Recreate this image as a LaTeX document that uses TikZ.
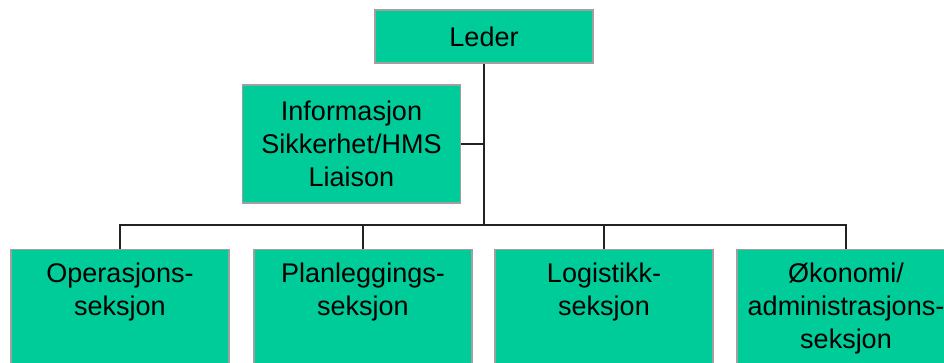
\documentclass[tikz,border=0pt]{standalone}
\usepackage{fontspec}
\setmainfont{Liberation Sans}
\usetikzlibrary{positioning}
\definecolor{boxgreen}{HTML}{00CC99}
\definecolor{boxedge}{HTML}{A0A0A0}
\definecolor{wirecol}{HTML}{222222}

\begin{document}
\begin{tikzpicture}[
    x=1pt, y=1pt,
    box/.style={draw=boxedge, line width=1.3pt, fill=boxgreen, minimum width=218pt,
                align=center, font=\fontsize{27}{33}\selectfont, inner sep=0pt},
    sect/.style={box, anchor=north, minimum height=140pt},
    sectlbl/.style={align=center, font=\fontsize{27}{33}\selectfont, inner sep=0pt, outer sep=0pt},
    wire/.style={draw=wirecol, line width=1.3pt},
]
\useasboundingbox (0,0) rectangle (944,363);
\clip (0,0) rectangle (944,363);

% Top boxes
\node[box, minimum height=53pt]  (leder) at (484,326.5) {Leder};
\node[box, minimum height=118pt] (info)  at (351.5,219) {Informasjon\\Sikkerhet/HMS\\Liaison};

% Section boxes
\node[sect] (ops)  at (120,114) {};
\node[sect] (plan) at (363,114) {};
\node[sect] (log)  at (604,114) {};
\node[sect] (okon) at (846,114) {};

% Section labels
\node[sectlbl, below=14pt of ops.north]  (opslbl)  {Operasjons-\\seksjon};
\node[sectlbl, below=14pt of plan.north] (planlbl) {Planleggings-\\seksjon};
\node[sectlbl, below=14pt of log.north]  (loglbl)  {Logistikk-\\seksjon};
\node[sectlbl, below=14pt of okon.north] (okonlbl) {Økonomi/\\administrasjons-\\seksjon};

% Connectors
\coordinate (bus) at (484,138);
\draw[wire] (leder.south) -- (bus);
\draw[wire] (info.east) -- (info.east -| bus);
\draw[wire] (ops.north) |- (bus) -| (okon.north);
\draw[wire] (plan.north) -- (plan.north |- bus);
\draw[wire] (log.north) -- (log.north |- bus);
\end{tikzpicture}
\end{document}
